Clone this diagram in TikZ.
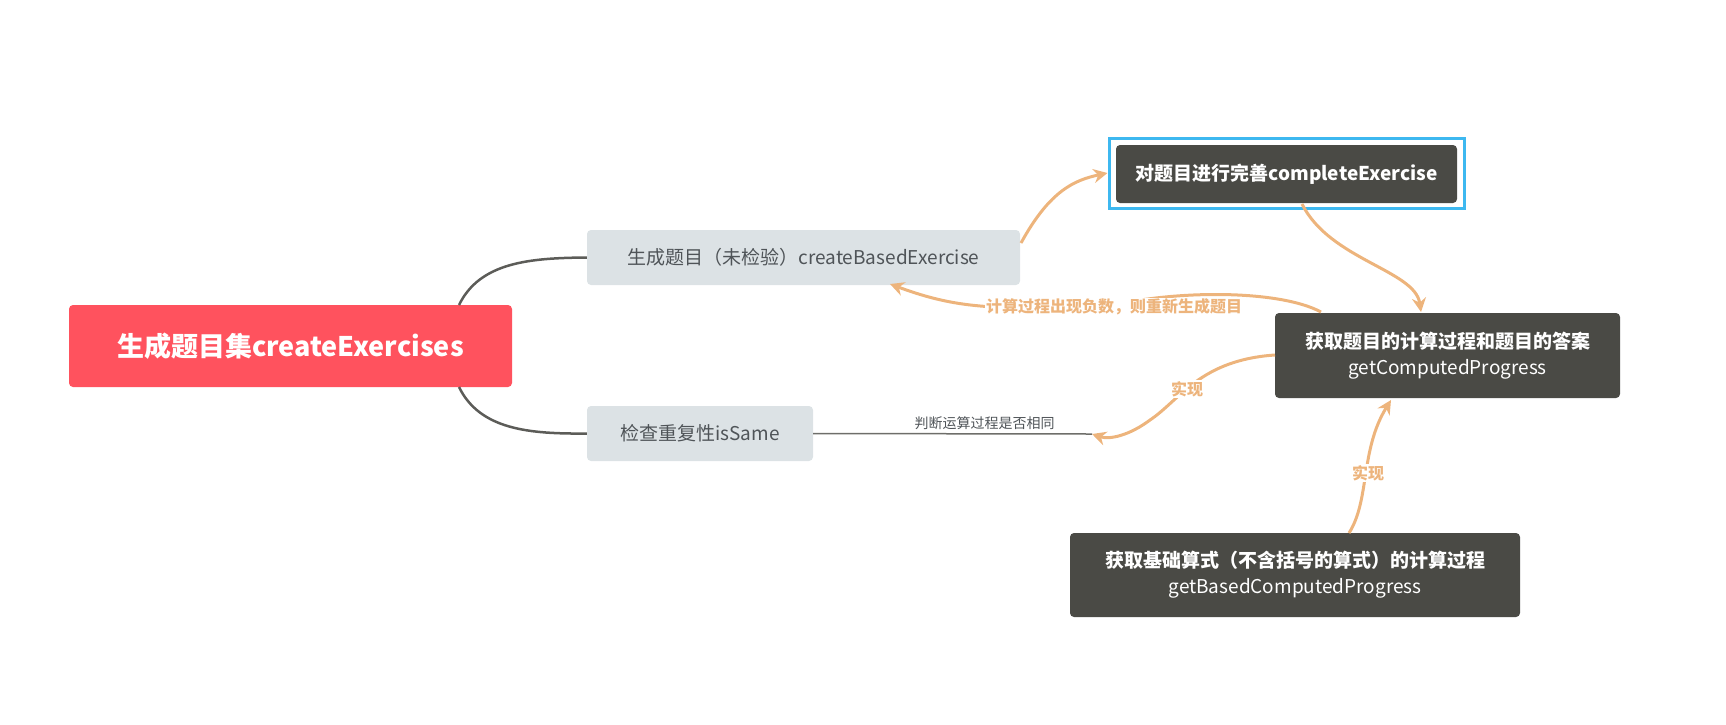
\documentclass[tikz,border=0pt]{standalone}
\usepackage{fontspec}
\setmainfont{Noto Sans CJK SC}
\newfontfamily\cjkb{Noto Sans CJK SC Bold}
\usetikzlibrary{arrows.meta}
\definecolor{darkn}{HTML}{4A4A45}
\definecolor{redn}{HTML}{FF525E}
\definecolor{grayn}{HTML}{DCE2E5}
\definecolor{orn}{HTML}{EDB47C}
\definecolor{bluen}{HTML}{3DB8F0}
\definecolor{txtg}{HTML}{4F5458}
\tikzset{
 darkbox/.style={fill=darkn,rounded corners=4pt,text=white,align=center,font=\fontsize{19}{26}\selectfont\bfseries,inner sep=0pt},
 graybox/.style={fill=grayn,rounded corners=4pt,text=txtg,font=\fontsize{19}{24}\selectfont,inner sep=0pt},
 oarr/.style={draw=orn,line width=3pt,-{Stealth[length=14pt,width=14pt]}},
 olab/.style={text=orn,font=\fontsize{16}{20}\selectfont\bfseries,fill=white,inner sep=1pt},
 conn/.style={draw=darkn!90,line width=2.5pt}
}
\begin{document}
\begin{tikzpicture}[x=1pt,y=-1pt]
\useasboundingbox (0,0) rectangle (1726,724);
\node[fill=redn,rounded corners=4pt,text=white,minimum width=443pt,minimum height=82pt,inner sep=0pt,font=\fontsize{27}{32}\selectfont\bfseries] (root) at (290.5,346) {生成题目集createExercises};
\node[graybox,minimum width=433pt,minimum height=55pt] (a) at (803.5,257.5) {生成题目（未检验）createBasedExercise};
\node[graybox,minimum width=226pt,minimum height=55pt] (b) at (700,433.5) {检查重复性isSame};
\node[draw=bluen,line width=3pt,minimum width=355pt,minimum height=70pt,inner sep=0pt] (cb) at (1286.5,173) {};
\node[darkbox,minimum width=341pt,minimum height=58pt] (c) at (1286.5,174) {对题目进行完善completeExercise};
\node[darkbox,minimum width=345pt,minimum height=85pt] (d) at (1447.5,355.5) {获取题目的计算过程和题目的答案\\ \mdseries getComputedProgress};
\node[darkbox,minimum width=450pt,minimum height=84pt] (e) at (1295,575) {获取基础算式（不含括号的算式）的计算过程\\ \mdseries getBasedComputedProgress};
\coordinate (rt) at (459,305);
\coordinate (rb) at (459,387);
\draw[conn] (rt) .. controls (480,262) and (530,258) .. (a.west);
\draw[conn] (rb) .. controls (480,430) and (530,434) .. (b.west);
\coordinate (bend) at (1092,434);
\draw[draw=darkn!80,line width=1.5pt] (b.east) -- (bend) node[midway,above=0pt,text=txtg,font=\fontsize{14}{16}\selectfont,xshift=32pt] (bl) {判断运算过程是否相同};
\coordinate (as) at (1021,243);
\draw[oarr] (as) .. controls (1050,190) and (1075,180) .. (cb.west);
\coordinate (cs) at (1302,204);
\coordinate (dt) at (1421,312);
\draw[oarr] (cs) .. controls (1330,260) and (1415,270) .. (dt);
\coordinate (ds) at (1321,312);
\coordinate (ab) at (890,284);
\draw[oarr] (ds) .. controls (1280,290) and (1180,290) .. (1114,305) .. controls (1000,310) and (960,310) .. (ab);
\node[olab] (l1) at (1114,307) {计算过程出现负数，则重新生成题目};
\coordinate (dl) at (1275,355);
\draw[oarr] (dl) .. controls (1200,360) and (1180,400) .. (1150,420) .. controls (1130,435) and (1110,440) .. (bend);
\node[olab] (l2) at (1187,389) {实现};
\coordinate (es) at (1349,533);
\coordinate (db) at (1391,400);
\draw[oarr] (es) .. controls (1370,500) and (1360,450) .. (db);
\node[olab] (l3) at (1368,473) {实现};
\end{tikzpicture}
\end{document}
